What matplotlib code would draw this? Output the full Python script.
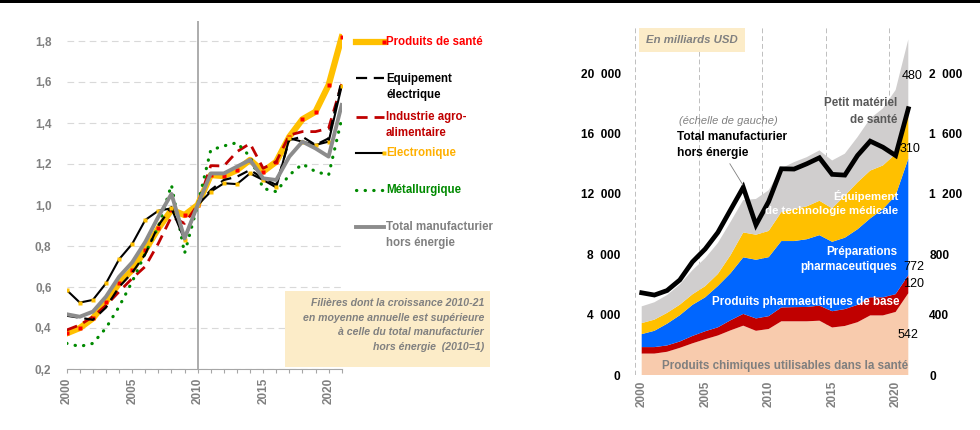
import matplotlib
matplotlib.use("Agg")
import matplotlib.pyplot as plt
from matplotlib.lines import Line2D
from matplotlib.patches import Rectangle

plt.rcParams['font.family'] = ['Liberation Sans', 'DejaVu Sans']

# ---- data ----
years = list(range(2000, 2022))

# left chart: indices 2010 = 1
sante = [0.374, 0.40, 0.447, 0.528, 0.618, 0.683, 0.78, 0.886, 0.976, 0.951, 1.0,
         1.146, 1.141, 1.17, 1.22, 1.163, 1.211, 1.333, 1.418, 1.455, 1.585, 1.818]
equip_elec = [0.46, 0.45, 0.44, 0.50, 0.60, 0.67, 0.76, 0.90, 0.99, 0.84, 1.0,
              1.073, 1.122, 1.138, 1.171, 1.13, 1.098, 1.317, 1.333, 1.293, 1.325, 1.61]
agro = [0.39, 0.415, 0.455, 0.51, 0.577, 0.642, 0.70, 0.813, 0.943, 0.91, 1.0,
        1.192, 1.19, 1.26, 1.30, 1.179, 1.211, 1.341, 1.358, 1.358, 1.374, 1.59]
electronique = [0.585, 0.524, 0.537, 0.618, 0.735, 0.81, 0.927, 0.972, 0.984, 0.83, 1.0,
                1.065, 1.106, 1.102, 1.154, 1.122, 1.086, 1.325, 1.309, 1.293, 1.309, 1.58]
metal = [0.325, 0.31, 0.325, 0.40, 0.504, 0.626, 0.764, 0.894, 1.098, 0.764, 1.0,
         1.268, 1.288, 1.304, 1.236, 1.081, 1.065, 1.146, 1.20, 1.163, 1.146, 1.42]
total_idx = [0.467, 0.455, 0.48, 0.553, 0.65, 0.72, 0.82, 0.943, 1.054, 0.837, 1.0,
             1.154, 1.154, 1.187, 1.22, 1.13, 1.122, 1.236, 1.309, 1.276, 1.236, 1.488]

# right chart: billions USD (health layers on right scale, total on left scale)
chimie = [142, 142, 154, 180, 210, 237, 262, 296, 327, 293, 305,
          356, 356, 356, 360, 315, 325, 350, 395, 395, 418, 542]
pharma_base = [43, 43, 42, 42, 49, 53, 54, 67, 78, 82, 85,
               92, 94, 95, 100, 108, 112, 115, 120, 120, 118, 120]
preparations = [86, 108, 144, 174, 206, 225, 274, 312, 375, 389, 391,
                440, 438, 449, 467, 460, 473, 501, 523, 585, 654, 772]
equip_med = [73, 74, 72, 70, 70, 74, 80, 120, 165, 166, 174,
             192, 212, 218, 228, 222, 279, 311, 317, 289, 276, 310]
petit_mat = [111, 115, 118, 134, 160, 185, 205, 220, 215, 237, 270,
             290, 311, 326, 334, 317, 278, 300, 345, 378, 423, 480]
total_manuf = [5450, 5300, 5600, 6300, 7500, 8350, 9450, 10950, 12440, 9950, 11500,
               13670, 13650, 14000, 14400, 13300, 13250, 14550, 15500, 15100, 14550, 17650]

W, H = 980, 430
fig = plt.figure(figsize=(9.8, 4.3), dpi=100)

def fx(x):
    return x / W

def fy(y):
    return 1 - y / H

# top black bar
fig.add_artist(Rectangle((0, fy(3)), 1, 3 / H, transform=fig.transFigure,
                         color='black', lw=0))

GREY = '#808080'

# ---------------- left chart ----------------
ax = fig.add_axes([fx(66.7), fy(369), fx(275), (369 - 20.5) / H])
ax.set_xlim(2000, 2021)
ax.set_ylim(0.2, 1.9)
for s in ['top', 'right', 'left']:
    ax.spines[s].set_visible(False)
ax.spines['bottom'].set_color('#A6A6A6')
ax.set_yticks([0.2, 0.4, 0.6, 0.8, 1.0, 1.2, 1.4, 1.6, 1.8])
ax.set_yticklabels([f"{v:.1f}".replace('.', ',') for v in ax.get_yticks()])
ax.set_xticks(years)
ax.set_xticklabels([str(y) if y % 5 == 0 else '' for y in years], rotation=90)
ax.tick_params(axis='y', length=0, pad=11, labelsize=8.5, labelcolor=GREY)
ax.tick_params(axis='x', length=3, color='#A6A6A6', labelsize=8.5, labelcolor=GREY, pad=3)
for lab in ax.get_xticklabels() + ax.get_yticklabels():
    lab.set_fontweight('bold')
ax.grid(axis='y', color='#D9D9D9', lw=0.8, linestyle=(0, (6, 4)))
ax.axvline(2010, color='#A6A6A6', lw=1.3, zorder=1)

ax.plot(years, sante, color='#FFC000', lw=4.5, marker='s', ms=3,
        mfc='#FF0000', mec='none', zorder=3)
ax.plot(years, agro, color='#C00000', lw=2, linestyle=(0, (4, 2.5)), zorder=4)
ax.plot(years, equip_elec, color='black', lw=1.6, linestyle=(0, (5, 3)), zorder=5)
ax.plot(years, electronique, color='black', lw=1.5, marker='s', ms=2.5,
        mfc='#FFC000', mec='none', zorder=5)
ax.plot(years, metal, color='#008A00', lw=2.3, linestyle=(0, (0.1, 2.6)),
        dash_capstyle='round', zorder=4)
ax.plot(years, total_idx, color='#8C8C8C', lw=2.8, zorder=6)

# legend drawn by hand
leg = [
    (42, 42, 'Produits de santé', '#FF0000',
     dict(color='#FFC000', lw=4.5, marker='s', ms=3, mfc='#FF0000', mec='none')),
    (78, 87, 'Equipement\nélectrique', 'black',
     dict(color='black', lw=1.6, linestyle=(0, (5, 3)))),
    (117, 125, 'Industrie agro-\nalimentaire', '#C00000',
     dict(color='#C00000', lw=2, linestyle=(0, (4, 2.5)))),
    (153, 153, 'Electronique', '#FFB000',
     dict(color='black', lw=1.5, marker='s', ms=2.5, mfc='#FFC000', mec='none')),
    (190, 190, 'Métallurgique', '#008A00',
     dict(color='#008A00', lw=2.3, linestyle=(0, (0.1, 2.6)), dash_capstyle='round')),
    (227, 235, 'Total manufacturier\nhors énergie', GREY,
     dict(color='#8C8C8C', lw=2.8)),
]
for ly, ty, txt, col, style in leg:
    fig.add_artist(Line2D([fx(356), fx(384)], [fy(ly), fy(ly)],
                          transform=fig.transFigure, markevery=[1], **style))
    fig.text(fx(386), fy(ty), txt, color=col, fontsize=8.3, fontweight='bold',
             ha='left', va='center', linespacing=1.45)

# note box
fig.add_artist(Rectangle((fx(285), fy(367)), fx(205), 76 / H,
                         transform=fig.transFigure, color='#FCECC8', lw=0))
fig.text(fx(484), fy(325),
         "Filières dont la croissance 2010-21\nen moyenne annuelle est supérieure\n"
         "à celle du total manufacturier\nhors énergie  (2010=1)",
         color=GREY, fontsize=7.6, fontweight='bold', fontstyle='italic',
         ha='right', va='center', linespacing=1.6)

# ---------------- right chart ----------------
axs = fig.add_axes([fx(629), fy(375), fx(292), 350 / H])
axl = axs.twinx()
axs.set_xlim(1999, 2022)
axs.set_ylim(0, 2320)
axl.set_ylim(0, 23200)

axs.stackplot(years, chimie, pharma_base, preparations, equip_med, petit_mat,
              colors=['#F8CBAD', '#C00000', '#0066FF', '#FFC000', '#D0CECE'],
              lw=0, zorder=2)
axl.plot(years, total_manuf, color='black', lw=3.4, solid_joinstyle='miter', zorder=5)

for a in (axs, axl):
    for s in a.spines.values():
        s.set_visible(False)
axs.yaxis.tick_right()
axl.yaxis.tick_left()
axs.set_xticks([2000, 2005, 2010, 2015, 2020])
axs.set_xticklabels(['2000', '2005', '2010', '2015', '2020'], rotation=90)
axs.set_xticks([1999.5, 2004.5, 2009.5, 2014.5, 2019.5], minor=True)
axs.grid(axis='x', which='minor', color='#BFBFBF', lw=0.7, linestyle=(0, (5, 3)), zorder=0)
axs.tick_params(axis='x', which='both', length=0, labelsize=8.5, labelcolor=GREY, pad=4)

def thousands(v):
    v = int(v)
    return f"{v // 1000}  {v % 1000:03d}" if v >= 1000 else str(v)

axs.set_yticks([0, 400, 800, 1200, 1600, 2000])
axs.set_yticklabels([thousands(v) for v in axs.get_yticks()])
axl.set_yticks([0, 4000, 8000, 12000, 16000, 20000])
axl.set_yticklabels([thousands(v) for v in axl.get_yticks()])
axs.tick_params(axis='y', length=0, pad=6, labelsize=8.6)
axl.tick_params(axis='y', length=0, pad=6, labelsize=8.6)
for lab in axs.get_xticklabels() + axs.get_yticklabels() + axl.get_yticklabels():
    lab.set_fontweight('bold')

def dx(x):
    return 2000 + (x - 642) / 12.67

def dy(y):
    return (375 - y) * 66.67

axl.text(dx(692), dy(42), 'En milliards USD', color=GREY, fontsize=8.2,
         fontweight='bold', fontstyle='italic', ha='center', va='center',
         bbox=dict(boxstyle='square,pad=0.6', fc='#FCECC8', ec='none'), zorder=6)
axl.text(dx(729), dy(122), '(échelle de gauche)', color=GREY, fontsize=8,
         fontstyle='italic', ha='center', va='center', zorder=6)
axl.text(dx(677), dy(146), 'Total manufacturier\nhors énergie', color='black',
         fontsize=8.6, fontweight='bold', ha='left', va='center', linespacing=1.45, zorder=6)
axl.plot([dx(730), dx(743)], [dy(165), dy(186)], color='#7F7F7F', lw=0.6, zorder=6)
axl.text(dx(897), dy(113), 'Petit matériel\nde santé', color='#595959',
         fontsize=8.4, fontweight='bold', ha='right', va='center', linespacing=1.45, zorder=6)
axl.text(dx(898), dy(204), 'Équipement\nde technologie médicale', color='white',
         fontsize=8.2, fontweight='bold', ha='right', va='center', linespacing=1.45, zorder=6)
axl.text(dx(897), dy(260), 'Préparations\npharmaceutiques', color='white',
         fontsize=8.4, fontweight='bold', ha='right', va='center', linespacing=1.4, zorder=6)
axl.text(dx(899), dy(302), 'Produits pharmaeutiques de base', color='white',
         fontsize=8.4, fontweight='bold', ha='right', va='center', zorder=6)
axl.text(dx(785), dy(366), 'Produits chimiques utilisables dans la santé', color='#7F7F7F',
         fontsize=8.4, fontweight='bold', ha='center', va='center', zorder=6)

for x, y, t in [(901, 78, '480'), (899, 150, '310'), (903, 268, '772'),
                (903, 285, '120'), (897, 335, '542')]:
    axl.text(dx(x), dy(y), t, color='black', fontsize=9, ha='left', va='center', zorder=6)

fig.savefig('out.png', dpi=100)
